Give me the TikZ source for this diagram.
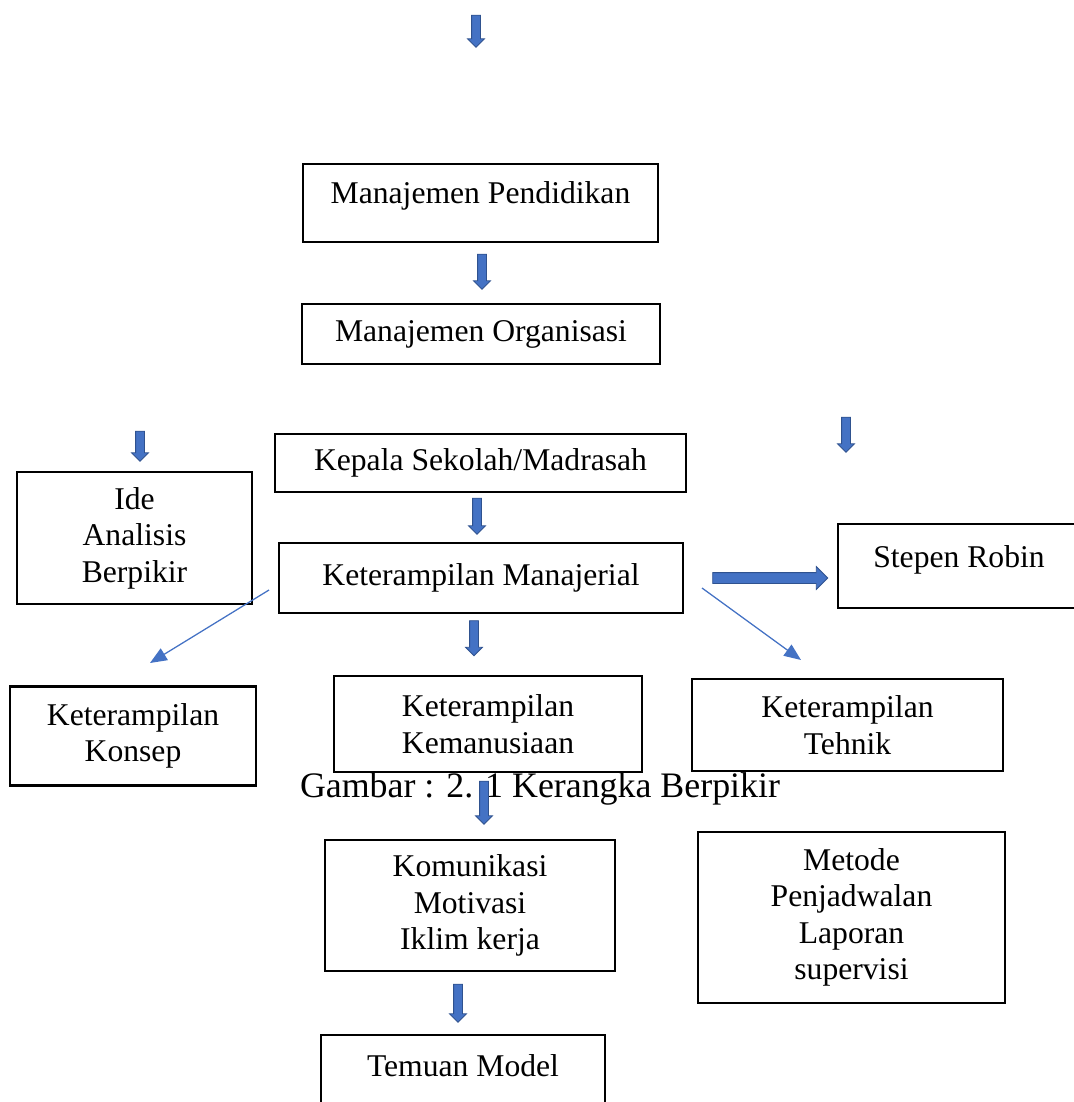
\documentclass[tikz,border=0pt]{standalone}
\usepackage{fontspec}
\setmainfont{Liberation Serif}
\usetikzlibrary{positioning,arrows.meta,shapes.arrows}
\definecolor{panahisi}{HTML}{4472C4}
\definecolor{panahtepi}{HTML}{2F528F}

\begin{document}
\begin{tikzpicture}[
    x=0.025cm,y=-0.025cm,
    kotak/.style={draw,line width=1.9pt,align=center,inner sep=0pt,font=\fontsize{22.5}{25.9}\selectfont},
    blok/.style={single arrow,draw=panahtepi,fill=panahisi,line width=0.6pt,inner sep=0.1cm,single arrow head extend=0.1cm,single arrow head indent=0pt,minimum height=#1},
    turun/.style={blok=#1,shape border rotate=270},
    tipis/.style={draw=panahisi,line width=0.9pt,-{Triangle[length=0.42cm,width=0.34cm]}},
]
\useasboundingbox (0,0) rectangle (1073,1102);

% kotak utama
\node[kotak,minimum width=8.875cm,minimum height=1.95cm,text depth=0.53cm] (mp) at (480.5,203) {Manajemen Pendidikan};
\node[kotak,minimum width=8.95cm,minimum height=1.5cm] (mo) at (481,334) {Manajemen Organisasi};
\node[kotak,minimum width=10.275cm,minimum height=1.45cm] (ks) at (480.5,463) {Kepala Sekolah/Madrasah};
\node[kotak,minimum width=5.875cm,minimum height=3.3cm] (ide) at (134.5,538) {Ide\\Analisis\\Berpikir};
\node[kotak,minimum width=10.1cm,minimum height=1.75cm] (km) at (481,578) {Keterampilan Manajerial};
\node[kotak,minimum width=6.05cm,minimum height=2.1cm,text depth=0.48cm] (sr) at (959,566) {Stepen Robin};

% tiga keterampilan
\node[kotak,minimum width=6.15cm,minimum height=2.475cm] (konsep) at (133,736) {Keterampilan\\Konsep};
\node[kotak,minimum width=7.7cm,minimum height=2.4cm] (manusia) at (488,724) {Keterampilan\\Kemanusiaan};
\node[kotak,minimum width=7.775cm,minimum height=2.3cm] (tehnik) at (847.5,725) {Keterampilan\\Tehnik};

\node[font=\fontsize{25.5}{28}\selectfont,inner sep=0pt] (judul) at (540,789) {Gambar : 2. 1 Kerangka Berpikir};

\node[kotak,minimum width=7.25cm,minimum height=3.275cm] (komunikasi) at (470,905.5) {Komunikasi\\Motivasi\\Iklim kerja};
\node[kotak,minimum width=7.675cm,minimum height=4.275cm] (metode) at (851.5,917.5) {Metode\\Penjadwalan\\Laporan\\supervisi};
\node[kotak,minimum width=7.1cm,minimum height=2.5cm,text depth=0.98cm] (temuan) at (463,1085) {Temuan Model};

% panah blok
\node[turun=0.8cm] (p0) at (476,29) {};
\node[turun=0.875cm] (p1) at (482,269.5) {};
\node[turun=0.75cm] (p2) at (140,444) {};
\node[turun=0.875cm] (p3) at (846,432.5) {};
\node[turun=0.9cm] (p4) at (477,514) {};
\node[turun=0.875cm] (p5) at (474,636) {};
\node[turun=1.075cm] (p6) at (484,800.5) {};
\node[turun=0.95cm] (p7) at (458,1001) {};
\node[blok=2.875cm,inner sep=0.125cm,single arrow head extend=0.15cm] (p8) at (767.5,578) {};

% panah tipis
\coordinate (kmkiri) at (269,590);
\coordinate (konsepatas) at (150,663);
\coordinate (kmkanan) at (702,588);
\coordinate (tehnikatas) at (801,660);
\draw[tipis] (kmkiri) -- (konsepatas);
\draw[tipis] (kmkanan) -- (tehnikatas);
\end{tikzpicture}
\end{document}
